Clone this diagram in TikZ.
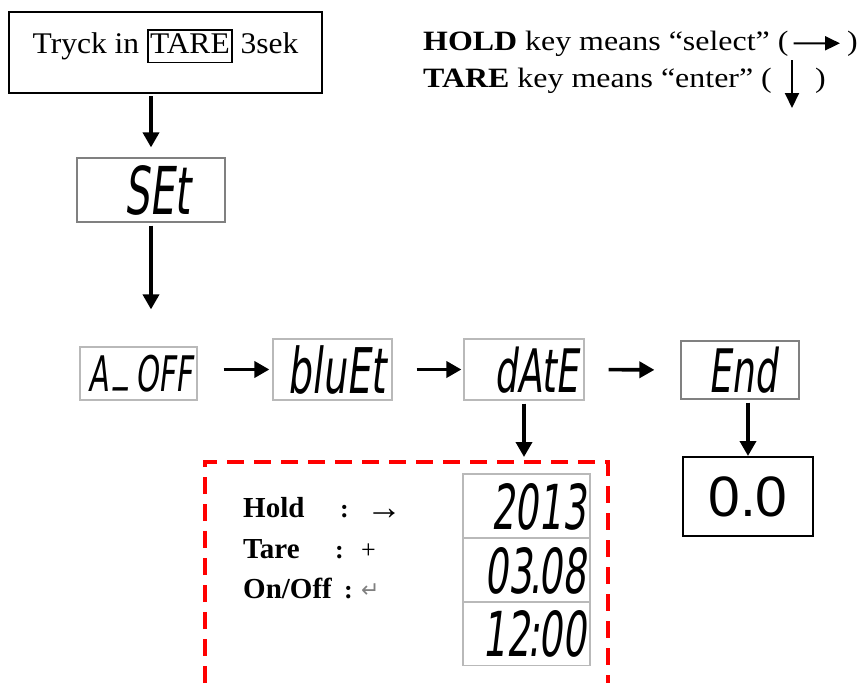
\documentclass[tikz,border=0pt]{standalone}
\usepackage{fontspec}
\setmainfont{Liberation Serif}
\newfontfamily\tryckfont[FakeStretch=1.05]{Liberation Serif}
\newfontfamily\keyfont[FakeStretch=1.14]{Liberation Serif}
\newfontfamily\lcdfont[FakeStretch=0.6,FakeSlant=0.12]{DejaVu Sans}
\newfontfamily\digitfont{Liberation Sans}
\newfontfamily\symbfont{DejaVu Sans}
\usepackage{tikz}
\usepackage{xcolor}
\usetikzlibrary{arrows.meta}

\newcommand{\tarebox}[1]{{\setlength{\fboxsep}{1.5pt}\setlength{\fboxrule}{1.5pt}\fbox{\rule[-7pt]{0pt}{28pt}#1}}}

\tikzset{
    lcd/.style={draw=gray!55, line width=1.2pt, inner ysep=0pt, text depth=0pt, align=right},
    keytext/.style={anchor=base west, inner sep=0pt, font=\fontsize{28}{28}\keyfont},
    bigarrow/.style={-{Triangle[length=15pt,width=16pt]}, line width=3.6pt},
    thinarrow/.style={-{Triangle[length=15pt,width=14pt]}, line width=2pt},
}

\begin{document}
\begin{tikzpicture}[x=1pt, y=-1pt]
    \useasboundingbox (0,0) rectangle (865,683);

    \coordinate (redSW) at (205,683);
    \coordinate (redNW) at (205,462);
    \coordinate (redNE) at (608,462);
    \coordinate (redSE) at (608,683);
    \coordinate (enterA) at (792,60);
    \coordinate (enterB) at (792,108);

    \node (tryck) at (165.5,52.5) [draw, line width=2pt, minimum width=313pt, inner sep=0pt, text height=41pt, text depth=40pt, font=\fontsize{30}{30}\tryckfont] {Tryck in \tarebox{TARE} 3sek};

    \node (holdkey) at (423,50) [keytext] {\textbf{HOLD} key means “select” (};
    \node (holdclose) at (847,50) [keytext] {)};
    \node (tarekey) at (423,87) [keytext] {\textbf{TARE} key means “enter” (};
    \node (tareclose) at (815,87) [keytext] {)};

    \node (set) at (151,190) [lcd, draw=gray, text width=78pt, inner xsep=35pt, minimum height=64pt, font=\fontsize{66}{66}\lcdfont] {SEt};
    \node (aoff) at (138.5,373.5) [lcd, text width=100pt, inner xsep=8.5pt, minimum height=53pt, font=\fontsize{49}{49}\lcdfont] {A\kern0.12em\raisebox{0.24em}{\_}\kern0.12em OFF};
    \node (bluet) at (332.5,369.5) [lcd, text width=105pt, inner xsep=7pt, minimum height=61pt, font=\fontsize{63}{63}\lcdfont] {bluEt};
    \node (date) at (524,369.5) [lcd, text width=108pt, inner xsep=6pt, minimum height=61pt, font=\fontsize{60}{60}\lcdfont] {dAtE};
    \node (end) at (740,370) [lcd, draw=gray, text width=74pt, inner xsep=22pt, minimum height=58pt, font=\fontsize{60}{60}\lcdfont] {End};
    \node (zero) at (748,496.5) [draw, line width=2pt, minimum width=130pt, minimum height=79pt, font=\fontsize{57}{57}\digitfont] {0.0};

    \node (year) at (526.5,506) [lcd, text width=119pt, inner xsep=4pt, minimum height=64pt, font=\fontsize{62}{62}\lcdfont] {2013};
    \node (day) at (526.5,570) [lcd, text width=119pt, inner xsep=4pt, minimum height=64pt, font=\fontsize{62}{62}\lcdfont] {03\kern-0.04em.\kern-0.04em08};
    \node (time) at (526.5,633.5) [lcd, text width=119pt, inner xsep=4pt, minimum height=64pt, font=\fontsize{62}{62}\lcdfont] {12\kern-0.03em:\kern-0.03em00};

    \node (hold) at (243,517) [anchor=base west, inner sep=0pt, font=\fontsize{29}{29}\bfseries] {Hold};
    \node (tare) at (243,558) [anchor=base west, inner sep=0pt, font=\fontsize{29}{29}\bfseries] {Tare};
    \node (onoff) at (243,598) [anchor=base west, inner sep=0pt, font=\fontsize{29}{29}\bfseries] {On/Off};
    \node (holdcolon) at (340,517) [anchor=base west, inner sep=0pt, font=\fontsize{26}{26}\bfseries] {:};
    \node (tarecolon) at (335,558) [anchor=base west, inner sep=0pt, font=\fontsize{26}{26}\bfseries] {:};
    \node (onoffcolon) at (344,598) [anchor=base west, inner sep=0pt, font=\fontsize{26}{26}\bfseries] {:};
    \node (holdsym) at (366,519) [anchor=base west, inner sep=0pt, font=\fontsize{36}{36}\selectfont] {→};
    \node (taresym) at (361,558) [anchor=base west, inner sep=0pt, font=\fontsize{26}{26}\selectfont] {+};
    \node (onoffsym) at (361,597) [anchor=base west, inner sep=0pt, text=gray, font=\fontsize{22}{22}\symbfont] {↵};

    \draw[red, line width=4pt, dash pattern=on 17pt off 10pt] (redSW) -- (redNW) -- (redNE) -- (redSE);

    \draw[thinarrow, shorten <=5pt, shorten >=7pt] (holdkey.east) -- (holdclose.west);
    \draw[thinarrow] (enterA) -- (enterB);

    \draw[bigarrow, shorten <=2pt, shorten >=10pt] (set.north |- tryck.south) -- (set.north);
    \draw[bigarrow, shorten <=3pt, shorten >=37pt] (set.south) -- (set.south |- aoff.north);
    \draw[bigarrow, shorten <=26pt, shorten >=3pt] (aoff.east |- bluet.west) -- (bluet.west);
    \draw[bigarrow, shorten <=24pt, shorten >=2pt] (bluet.east) -- (date.west);
    \draw[bigarrow, shorten <=24pt, shorten >=26pt] (date.east) -- (end.west);
    \draw[bigarrow, shorten <=3pt, shorten >=5pt] (date.south) -- (date.south |- redNE);
    \draw[bigarrow, shorten <=3pt] (zero.north |- end.south) -- (zero.north);
\end{tikzpicture}
\end{document}
